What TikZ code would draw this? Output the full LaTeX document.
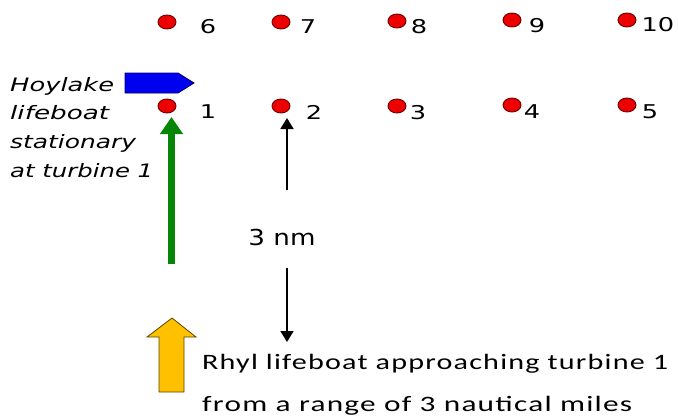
\documentclass[tikz,border=0pt]{standalone}
\usepackage{fontspec}
\usepackage{graphicx}
\usetikzlibrary{arrows.meta,shapes.geometric}
\newfontfamily\dvs{DejaVu Sans}
\newfontfamily\carl[LetterSpace=4]{Carlito}
\definecolor{dotred}{HTML}{EE0000}
\definecolor{dotedge}{HTML}{6A0000}
\definecolor{boatblue}{HTML}{0000F0}
\definecolor{boatedge}{HTML}{00006A}
\definecolor{arrgreen}{HTML}{068506}
\definecolor{arryellow}{HTML}{FFC000}
\definecolor{yedge}{HTML}{5A4500}
\newcommand{\hst}[1]{\scalebox{1.35}[1]{#1}}
\begin{document}
\begin{tikzpicture}[x=1pt,y=-1pt,
  dot/.style={ellipse, draw=dotedge, fill=dotred, line width=0.9pt, minimum width=18pt, minimum height=14pt, inner sep=0pt},
  num/.style={font=\dvs\fontsize{19}{19}\selectfont, inner sep=0pt},
  thinarrow/.style={draw=black, line width=1.8pt, -{Triangle[width=13pt,length=11pt]}}
]
\useasboundingbox (0,0) rectangle (678,418);
% turbines, top row
\node[dot] (d6) at (167,22) {};
\node[dot] (d7) at (281,22) {};
\node[dot] (d8) at (397,21) {};
\node[dot] (d9) at (512,20) {};
\node[dot] (d10) at (627,20) {};
% bottom row
\node[dot] (d1) at (167,106) {};
\node[dot] (d2) at (281,106) {};
\node[dot] (d3) at (397,106) {};
\node[dot] (d4) at (512,105) {};
\node[dot] (d5) at (627,105) {};
% labels
\node[num] (l6) at (208,27) {\hst{6}};
\node[num] (l7) at (308,27) {\hst{7}};
\node[num] (l8) at (419,27) {\hst{8}};
\node[num] (l9) at (537,26) {\hst{9}};
\node[num] (l10) at (658,25) {\hst{10}};
\node[num] (l1) at (208,112) {\hst{1}};
\node[num] (l2) at (314,112) {\hst{2}};
\node[num] (l3) at (418,113) {\hst{3}};
\node[num] (l4) at (532,112) {\hst{4}};
\node[num] (l5) at (650,112) {\hst{5}};
% Hoylake boat
\draw[fill=boatblue, draw=boatedge, line width=0.8pt] (125,73) -- (178,73) -- (194,83) -- (178,93) -- (125,93) -- cycle;
\node[anchor=north west, inner sep=0pt, align=left, font=\dvs\itshape\fontsize{18.5}{28.7}\selectfont] (hoy) at (10,77)
  {\resizebox{104pt}{\height}{Hoylake}\\ \resizebox{99pt}{\height}{lifeboat}\\ \resizebox{126pt}{\height}{stationary}\\ \resizebox{143pt}{\height}{at turbine 1}};
% green arrow
\coordinate (gs) at (171.5,264);
\coordinate (ge) at (171.5,117);
\draw[draw=arrgreen, line width=7.3pt, -{Triangle[width=22pt,length=17pt,fill=arrgreen]}] (gs) -- (ge);
% 3 nm
\node[inner sep=0pt, font=\dvs\fontsize{22}{22}\selectfont] (nm) at (282,237) {\resizebox{67pt}{\height}{3 nm}};
\coordinate (us) at (287,190);
\coordinate (ue) at (287,118);
\coordinate (ds) at (287,268);
\coordinate (de) at (287,342);
\draw[thinarrow] (us) -- (ue);
\draw[thinarrow] (ds) -- (de);
% yellow block arrow
\draw[fill=arryellow, draw=yedge, line width=0.8pt] (172,318) -- (196,337) -- (184,337) -- (184,392) -- (159,392) -- (159,337) -- (147,337) -- cycle;
% Rhyl text
\node[anchor=base west, inner sep=0pt, font=\carl\fontsize{22}{22}\selectfont] (rhyl1) at (202,369) {\resizebox{466pt}{\height}{Rhyl lifeboat approaching turbine 1}};
\node[anchor=base west, inner sep=0pt, font=\carl\fontsize{22}{22}\selectfont] (rhyl2) at (202,411) {\resizebox{430pt}{\height}{from a range of 3 nautical miles}};
\end{tikzpicture}
\end{document}
